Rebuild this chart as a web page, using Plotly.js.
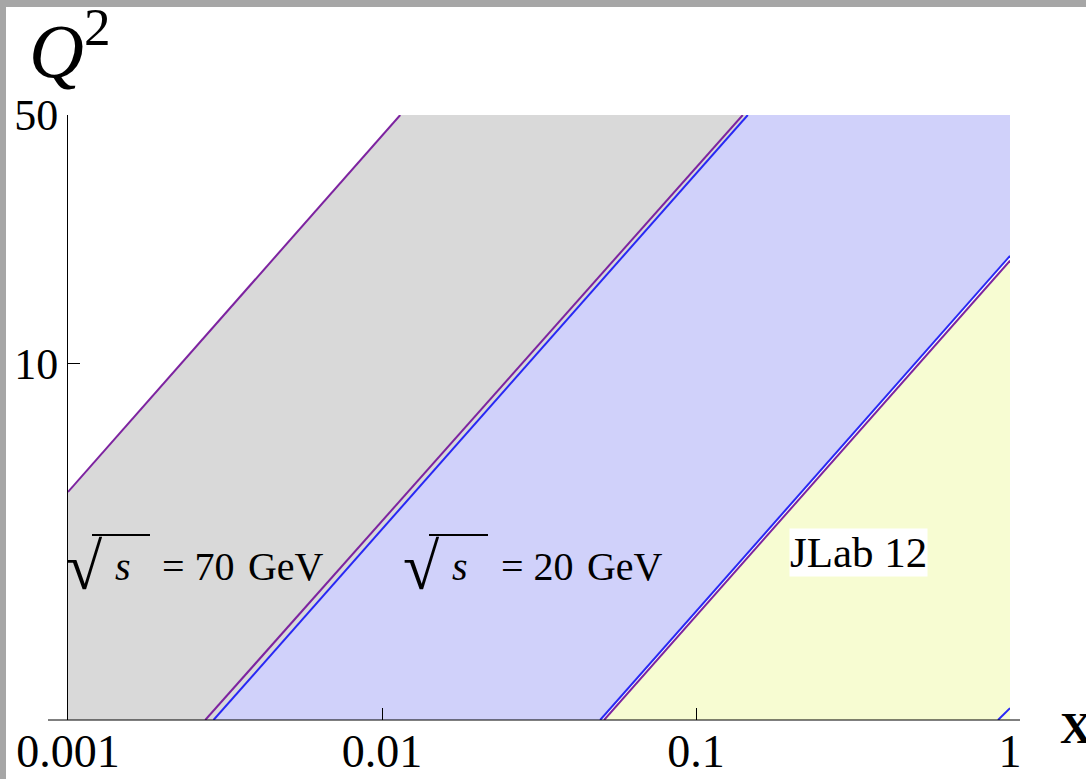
<!DOCTYPE html>
<html>
<head>
<meta charset="utf-8">
<script src="https://cdn.plot.ly/plotly-3.0.1.min.js"></script>
<style>
  html, body { margin: 0; padding: 0; background: #a6a6a6; width: 1086px; height: 779px; overflow: hidden; }
  #frame { position: absolute; left: 6px; top: 7px; width: 1080px; height: 772px; background: #ffffff; }
  #chart { width: 1080px; height: 772px; }
</style>
</head>
<body>
<div id="frame"><div id="chart"></div></div>
<script>
// Kinematic coverage in the (x, Q^2) plane
const xTickVals = [0.001, 0.01, 0.1, 1];
const xTickText = ['0.001', '0.01', '0.1', '1'];
const yTickVals = [10, 50];
const yTickText = ['10', '50'];

// Boundary lines: [x at low end, x at high end] and matching Q^2 values
const s70UpperX = [0.001, 0.01143];
const s70UpperQ2 = [4.37, 50];
const s20UpperAX = [0.002736, 0.1409];   // purple
const s20UpperAQ2 = [1, 50];
const s20UpperBX = [0.002907, 0.1462];   // blue
const s20UpperBQ2 = [1, 50];
const jlabBlueX = [0.04952, 1];
const jlabBlueQ2 = [1, 20.11];
const jlabPurpleX = [0.05097, 1];
const jlabPurpleQ2 = [1, 19.5];
const cornerBlueX = [0.916, 1];
const cornerBlueQ2 = [1, 1.08];

const Q2_MIN = 1, Q2_MAX = 50, X_MIN = 0.001, X_MAX = 1;

const purple = 'rgb(125,35,160)';
const blue = 'rgb(40,40,245)';

const traces = [
  // grey band (sqrt(s) = 70 GeV)
  { x: [X_MIN, s70UpperX[0], s70UpperX[1], s20UpperBX[1], s20UpperBX[0]],
    y: [Q2_MIN, s70UpperQ2[0], s70UpperQ2[1], Q2_MAX, Q2_MIN],
    fill: 'toself', fillcolor: 'rgb(217,217,217)', mode: 'none', hoverinfo: 'skip' },
  // blue band (sqrt(s) = 20 GeV)
  { x: [s20UpperBX[0], s20UpperBX[1], X_MAX, jlabBlueX[1], jlabBlueX[0]],
    y: [Q2_MIN, Q2_MAX, Q2_MAX, jlabBlueQ2[1], Q2_MIN],
    fill: 'toself', fillcolor: 'rgb(208,209,250)', mode: 'none', hoverinfo: 'skip' },
  // yellow band (JLab 12)
  { x: [jlabPurpleX[0], jlabPurpleX[1], X_MAX],
    y: [Q2_MIN, jlabPurpleQ2[1], Q2_MIN],
    fill: 'toself', fillcolor: 'rgb(247,252,210)', mode: 'none', hoverinfo: 'skip' },
  { x: s70UpperX, y: s70UpperQ2, mode: 'lines', line: { color: purple, width: 2 } },
  { x: s20UpperAX, y: s20UpperAQ2, mode: 'lines', line: { color: purple, width: 2 } },
  { x: s20UpperBX, y: s20UpperBQ2, mode: 'lines', line: { color: blue, width: 2 } },
  { x: jlabBlueX, y: jlabBlueQ2, mode: 'lines', line: { color: blue, width: 2 } },
  { x: jlabPurpleX, y: jlabPurpleQ2, mode: 'lines', line: { color: purple, width: 2 } },
  { x: cornerBlueX, y: cornerBlueQ2, mode: 'lines', line: { color: blue, width: 2 } }
];

// page pixel -> paper coordinates (plot area spans 68..1010 by 115..720)
const PL = 68, PR = 1010, PT = 115, PB = 720;
const px = v => (v - PL) / (PR - PL);
const py = v => (PB - v) / (PB - PT);

const serif = 'Liberation Serif';
const ann = (text, x, y, size, opts) => Object.assign({
  text: text, xref: 'paper', yref: 'paper', x: px(x), y: py(y),
  showarrow: false, font: { family: serif, size: size, color: '#000' },
  xanchor: 'left', yanchor: 'middle'
}, opts || {});

const annotations = [
  ann('<i>Q</i><sup>2</sup>', 27, 46, 76),
  ann('<b>X</b>', 1058, 728, 44),
  ann('√', 64, 566, 66),
  ann('<i>s</i>', 113, 566, 40),
  ann('= 70\u200A GeV', 160, 566, 40),
  ann('√', 401, 566, 66),
  ann('<i>s</i>', 450, 566, 40),
  ann('= 20\u200A GeV', 499, 566, 40),
  ann('JLab 12', 858, 552, 43, { xanchor: 'center', bgcolor: '#ffffff', borderpad: 0 })
];

const shapes = [
  // x axis line runs a little past the plotted range
  { type: 'line', xref: 'paper', yref: 'paper', x0: px(48), x1: px(1020), y0: 0, y1: 0,
    line: { color: '#000', width: 1 } },
  // radical bars
  { type: 'line', xref: 'paper', yref: 'paper', x0: px(92), x1: px(150), y0: py(535), y1: py(535),
    line: { color: '#000', width: 2 } },
  { type: 'line', xref: 'paper', yref: 'paper', x0: px(429), x1: px(488), y0: py(535), y1: py(535),
    line: { color: '#000', width: 2 } }
];

const layout = {
  width: 1080, height: 772,
  margin: { l: PL - 6, r: 1080 - (PR - 6), t: PT - 7, b: 772 - (PB - 7) },
  paper_bgcolor: '#ffffff', plot_bgcolor: 'rgba(0,0,0,0)',
  showlegend: false,
  xaxis: {
    type: 'log', range: [Math.log10(X_MIN), Math.log10(X_MAX)],
    tickvals: xTickVals, ticktext: xTickText,
    ticks: 'inside', ticklen: 12, tickwidth: 1, tickcolor: '#000',
    showline: false, showgrid: false, zeroline: false,
    tickfont: { family: serif, size: 46, color: '#000' }
  },
  yaxis: {
    type: 'log', range: [Math.log10(Q2_MIN), Math.log10(Q2_MAX)],
    tickvals: yTickVals, ticktext: yTickText,
    ticks: 'inside', ticklen: 12, tickwidth: 1, tickcolor: '#000',
    showline: true, linecolor: '#000', linewidth: 1,
    showgrid: false, zeroline: false,
    tickfont: { family: serif, size: 44, color: '#000' }
  },
  annotations: annotations,
  shapes: shapes
};

Plotly.newPlot('chart', traces, layout, { staticPlot: true, displayModeBar: false });
</script>
</body>
</html>
